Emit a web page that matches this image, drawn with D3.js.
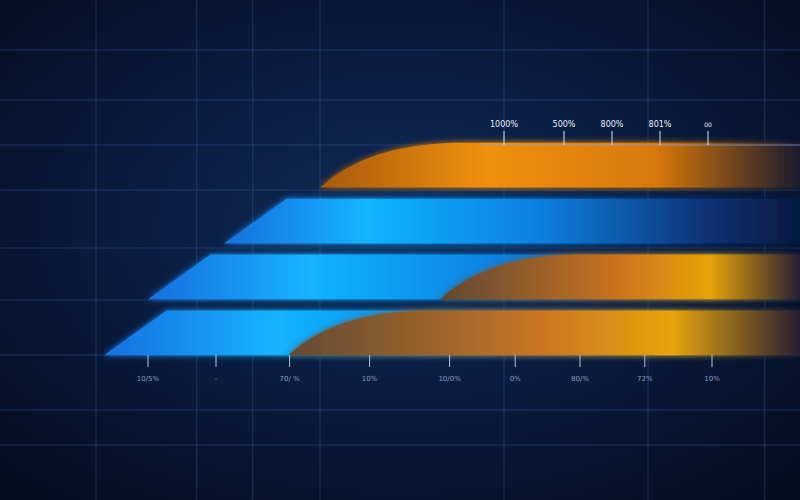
<!DOCTYPE html>
<html><head><meta charset="utf-8">
<script src="https://cdn.jsdelivr.net/npm/d3@7"></script>
<style>html,body{margin:0;padding:0;background:#07152f;}</style>
</head><body>
<svg id="c" width="800" height="500"></svg>
<script>
const categories = ["A","B","C","D"];
const blueStart = [null, 28, 18.5, 13];
const orangeStart = [40, null, 55, 36];
const barEnd = 100;
const topTicks = [63, 70.5, 76.5, 82.5, 88.5];
const topLabels = ["1000%","500%","800%","801%","00"];
const bottomTicks = [18.5, 27, 36.2, 46.2, 56.2, 64.4, 72.5, 80.6, 89];
const bottomLabels = ["10/5%","-","70/ %","10%","10/0%","0%","80/%","72%","10%"];
const vGrid = [12, 24.6, 31.6, 40, 63, 81, 95.6];
const hGrid = [50, 100, 145, 190, 248, 300, 355, 410, 445];

const svg = d3.select("#c");
const W = 800, H = 500;
const x = d3.scaleLinear().domain([0,100]).range([0,W]);
const y = d3.scaleBand().domain(categories).range([140,358]).paddingInner(0.2).paddingOuter(0.05);

const defs = svg.append("defs");
const bg = defs.append("radialGradient").attr("id","bg").attr("cx","50%").attr("cy","45%").attr("r","70%");
bg.append("stop").attr("offset","0%").attr("stop-color","#0f2a5a");
bg.append("stop").attr("offset","100%").attr("stop-color","#040d22");
const bl = defs.append("linearGradient").attr("id","blue").attr("x1","0").attr("x2","1");
[[0,"#1a6fe0"],[0.25,"#12b4ff"],[0.55,"#0a7fe0"],[0.85,"#0a2f70"],[1,"#061a40"]].forEach(s=>bl.append("stop").attr("offset",s[0]).attr("stop-color",s[1]));
const og = defs.append("linearGradient").attr("id","orange").attr("x1","0").attr("x2","1");
[[0,"#a85a10"],[0.35,"#f0900a"],[0.7,"#d87808"],[1,"#1a1a30"]].forEach(s=>og.append("stop").attr("offset",s[0]).attr("stop-color",s[1]));
const og2 = defs.append("linearGradient").attr("id","orange2").attr("x1","0").attr("x2","1");
[[0,"#6a4020"],[0.5,"#e07810"],[0.75,"#ffb000"],[1,"#2a2030"]].forEach(s=>og2.append("stop").attr("offset",s[0]).attr("stop-color",s[1]));
const glow = defs.append("filter").attr("id","glow").attr("x","-20%").attr("y","-50%").attr("width","140%").attr("height","200%");
glow.append("feGaussianBlur").attr("stdDeviation",3).attr("result","b");
const m = glow.append("feMerge"); m.append("feMergeNode").attr("in","b"); m.append("feMergeNode").attr("in","SourceGraphic");

svg.append("rect").attr("width",W).attr("height",H).attr("fill","url(#bg)");
svg.selectAll(".vg").data(vGrid).join("line").attr("x1",d=>x(d)).attr("x2",d=>x(d)).attr("y1",0).attr("y2",H)
  .attr("stroke","#3a5a9a").attr("stroke-opacity",0.45);
svg.selectAll(".hg").data(hGrid).join("line").attr("x1",0).attr("x2",W).attr("y1",d=>d).attr("y2",d=>d)
  .attr("stroke","#3a5a9a").attr("stroke-opacity",0.45);

function barPath(s, cat, curve){
  const y0 = y(cat), y1 = y(cat)+y.bandwidth();
  const xb = x(s), xe = x(barEnd);
  const slant = curve ? y.bandwidth()*3 : y.bandwidth()*1.4;
  const p = d3.path();
  p.moveTo(xb, y1);
  if (curve) p.quadraticCurveTo(xb+slant*0.35, y0+2, xb+slant, y0);
  else p.lineTo(xb+slant, y0);
  p.lineTo(xe, y0); p.lineTo(xe, y1); p.closePath();
  return p.toString();
}

categories.forEach((c,i)=>{
  if (blueStart[i]!=null) svg.append("path").attr("d",barPath(blueStart[i],c,false)).attr("fill","url(#blue)").attr("filter","url(#glow)");
  if (orangeStart[i]!=null) svg.append("path").attr("d",barPath(orangeStart[i],c,true))
    .attr("fill", i===0 ? "url(#orange)" : "url(#orange2)").attr("opacity", i===0?1:0.9).attr("filter","url(#glow)");
});

// top axis
const ty = 145;
svg.append("line").attr("x1",x(60)).attr("x2",W).attr("y1",ty).attr("y2",ty).attr("stroke","#7fa8e8").attr("stroke-opacity",0.7);
topTicks.forEach((t,i)=>{
  svg.append("line").attr("x1",x(t)).attr("x2",x(t)).attr("y1",ty-14).attr("y2",ty).attr("stroke","#d0e0ff");
  svg.append("text").attr("x",x(t)).attr("y",ty-18).attr("text-anchor","middle").attr("fill","#e8eefc")
    .attr("font-family","DejaVu Sans").attr("font-size",i===4?6:8).text(topLabels[i]);
});
// bottom axis
const by = 355;
svg.append("line").attr("x1",x(0)).attr("x2",W).attr("y1",by).attr("y2",by).attr("stroke","#8fb0ff").attr("stroke-opacity",0.8).attr("filter","url(#glow)");
bottomTicks.forEach((t,i)=>{
  svg.append("line").attr("x1",x(t)).attr("x2",x(t)).attr("y1",by).attr("y2",by+12).attr("stroke","#b0c4ea");
  svg.append("text").attr("x",x(t)).attr("y",by+26).attr("text-anchor","middle").attr("fill","#8a9cc0")
    .attr("font-family","DejaVu Sans").attr("font-size",7).text(bottomLabels[i]);
});
</script>
</body></html>
